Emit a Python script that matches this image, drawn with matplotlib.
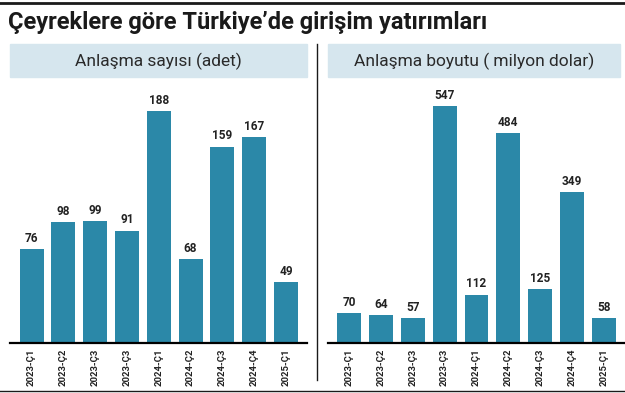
import matplotlib
matplotlib.use('Agg')
import matplotlib.pyplot as plt
from matplotlib.patches import Rectangle
from matplotlib.lines import Line2D

# veriler
ceyrekler = ['2023-Ç1', '2023-Ç2', '2023-Ç3', '2023-Ç3', '2024-Ç1',
             '2024-Ç2', '2024-Ç3', '2024-Ç4', '2025-Ç1']
anlasma_sayisi = [76, 98, 99, 91, 188, 68, 159, 167, 49]
anlasma_boyutu = [70, 64, 57, 547, 112, 484, 125, 349, 58]

baslik = 'Çeyreklere göre Türkiye’de girişim yatırımları'
sol_baslik = 'Anlaşma sayısı (adet)'
sag_baslik = 'Anlaşma boyutu ( milyon dolar)'

renk = '#2b88a8'
kutu_renk = '#d6e6ee'

W, H = 625, 393
fig = plt.figure(figsize=(W / 100, H / 100), dpi=100)


def px(x0, y_top, x1, y_bot):
    # piksel -> figure koordinatlari
    return [x0 / W, 1 - y_bot / H, (x1 - x0) / W, (y_bot - y_top) / H]


def ciz(ax, degerler, ymax, xlim):
    x = range(len(degerler))
    ax.bar(x, degerler, width=0.75, color=renk)
    ax.set_ylim(0, ymax)
    ax.set_xlim(*xlim)
    for s in ['top', 'right', 'left']:
        ax.spines[s].set_visible(False)
    ax.spines['bottom'].set_linewidth(1.6)
    ax.set_yticks([])
    ax.set_xticks(list(x))
    ax.set_xticklabels(ceyrekler, rotation=90, fontsize=6.8, fontweight='bold',
                       family='Roboto', color='#222222')
    ax.tick_params(axis='x', length=0, pad=4)
    for i, v in enumerate(degerler):
        ax.annotate(str(v), (i, v), xytext=(0, 3), textcoords='offset points',
                    ha='center', va='bottom', fontsize=8.5, fontweight='bold',
                    family='Roboto', color='#222222')


ax1 = fig.add_axes(px(10, 85, 307, 343))
ciz(ax1, anlasma_sayisi, 258 / 1.235, (-0.68, 8.66))

ax2 = fig.add_axes(px(328, 85, 624, 343))
ciz(ax2, anlasma_boyutu, 258 / 0.433, (-0.66, 8.63))

# baslik
fig.text(8 / W, 1 - 29 / H, baslik, fontsize=17, fontweight='bold',
         family='Roboto', color='#1a1a1a', va='baseline')

# kutu basliklari
for x0, x1, t in [(10, 307, sol_baslik), (328, 620, sag_baslik)]:
    fig.patches.append(Rectangle((x0 / W, 1 - 77 / H), (x1 - x0) / W, 33 / H,
                                 transform=fig.transFigure, color=kutu_renk, zorder=0))
    fig.text((x0 + x1) / 2 / W, 1 - 61 / H, t, ha='center', va='center',
             fontsize=12.5, fontweight='normal', family='Roboto', color='#2a2a2a')

# cizgiler
fig.lines.append(Line2D([0, 1], [1 - 3 / H, 1 - 3 / H], transform=fig.transFigure,
                        color='#1a1a1a', lw=2))
fig.lines.append(Line2D([0, 1], [1 - 391 / H, 1 - 391 / H], transform=fig.transFigure,
                        color='#1a1a1a', lw=1))
fig.lines.append(Line2D([317 / W, 317 / W], [1 - 44 / H, 1 - 380 / H],
                        transform=fig.transFigure, color='#1a1a1a', lw=1))

fig.savefig('out.png', dpi=100)
